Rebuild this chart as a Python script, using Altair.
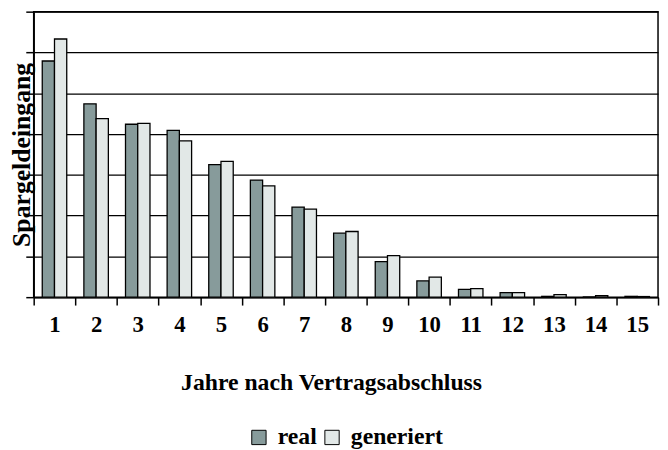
import altair as alt
import pandas as pd

years = [str(i) for i in range(1, 16)]
real = [5.79, 4.74, 4.24, 4.09, 3.25, 2.87, 2.21, 1.57, 0.87, 0.40, 0.19, 0.11, 0.02, 0.005, 0.02]
generiert = [6.33, 4.38, 4.26, 3.83, 3.33, 2.73, 2.16, 1.61, 1.02, 0.49, 0.21, 0.11, 0.06, 0.04, 0.015]
series = ["real", "generiert"]
colors = ["#879B9B", "#E2E8E7"]
grid_values = [0, 1, 2, 3, 4, 5, 6, 7]

rows = []
for i, y in enumerate(years):
    rows.append({"Jahr": y, "Serie": "real", "Wert": real[i]})
    rows.append({"Jahr": y, "Serie": "generiert", "Wert": generiert[i]})
df = pd.DataFrame(rows)

FONT = "Times New Roman, Liberation Serif, serif"
W, H = 632, 289

chart = alt.Chart(df).mark_bar(stroke="black", strokeWidth=1.3).encode(
    x=alt.X("Jahr:N", sort=years,
            scale=alt.Scale(paddingInner=0, paddingOuter=0),
            axis=alt.Axis(title="Jahre nach Vertragsabschluss", labelAngle=0,
                          tickBand="extent", tickSize=8, tickColor="black", tickWidth=1.5,
                          domainColor="black", domainWidth=1.5,
                          labelFont=FONT, labelFontSize=23, labelFontWeight="bold",
                          labelColor="black", labelPadding=9, labelBaseline="top",
                          titleFont=FONT, titleFontSize=24, titleFontWeight="bold",
                          titleColor="black", titleY=86, titleX=301, titleAlign="center",
                          titleBaseline="middle")),
    xOffset=alt.XOffset("Serie:N", sort=series,
                        scale=alt.Scale(paddingInner=0, paddingOuter=0.7)),
    y=alt.Y("Wert:Q", scale=alt.Scale(domain=[0, 7], nice=False, zero=True),
            axis=alt.Axis(values=grid_values, labels=False, title="Spargeldeingang",
                          grid=True, gridColor="black", gridWidth=1.4, gridOpacity=1,
                          tickSize=8, tickColor="black", tickWidth=1.5,
                          domainColor="black", domainWidth=1.5,
                          titleFont=FONT, titleFontSize=26, titleFontWeight="bold",
                          titleColor="black", titleAngle=270, titleX=-12, titleY=H / 2,
                          titleAlign="center", titleBaseline="middle")),
    color=alt.Color("Serie:N", sort=series,
                    scale=alt.Scale(domain=series, range=colors),
                    legend=alt.Legend(title=None, orient="none", direction="horizontal",
                                      legendX=216, legendY=419,
                                      symbolType="square", symbolSize=210,
                                      symbolStrokeColor="black", symbolStrokeWidth=1,
                                      labelFont=FONT, labelFontSize=24, labelFontWeight="bold",
                                      labelColor="black", labelOffset=7, columnPadding=3)),
).properties(
    width=W, height=H,
    autosize=alt.AutoSizeParams(type="none"),
    padding={"left": 26, "top": 1, "right": 2, "bottom": 152},
).configure_view(stroke="black", strokeWidth=1.5)

chart.save("out.html", embed_options={"renderer": "svg", "actions": False})
